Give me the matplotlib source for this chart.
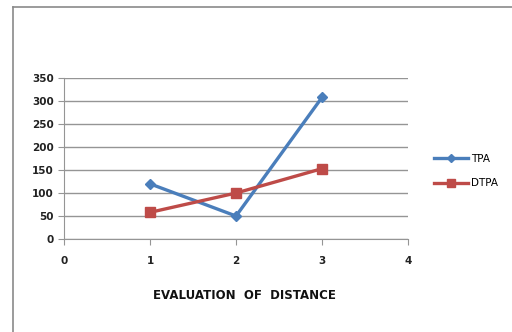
import matplotlib.pyplot as plt
from matplotlib.lines import Line2D

x = [1, 2, 3]
tpa = [120, 50, 308]
dtpa = [58, 100, 153]
xticks = [0, 1, 2, 3, 4]
yticks = [0, 50, 100, 150, 200, 250, 300, 350]

fig = plt.figure(figsize=(5.12, 3.32), dpi=100)
ax = fig.add_axes([0.125, 0.280, 0.672, 0.485])

ax.plot(x, tpa, "-D", color="#4a7ebb", lw=2.4, ms=5, label="TPA")
ax.plot(x, dtpa, "-s", color="#be4b48", lw=2.4, ms=7, label="DTPA")

ax.set_xlim(0, 4)
ax.set_ylim(0, 350)
ax.set_xticks(xticks)
ax.set_yticks(yticks)
ax.grid(axis="y", color="#959595", lw=1)
ax.set_axisbelow(True)
for s in ["top", "right"]:
    ax.spines[s].set_visible(False)
for s in ["left", "bottom"]:
    ax.spines[s].set_color("#959595")
ax.tick_params(axis="both", colors="#959595", labelcolor="#222222", labelsize=7.5, length=4)
for lab in ax.get_xticklabels() + ax.get_yticklabels():
    lab.set_fontweight("bold")
ax.tick_params(axis="x", pad=8)

fig.text(0.478, 0.11, "EVALUATION  OF  DISTANCE", ha="center", va="center",
         fontsize=8.5, fontweight="bold", color="#111111")

fig.legend(loc="center left", bbox_to_anchor=(0.83, 0.485), frameon=False,
           fontsize=7.5, handlelength=3.2, labelspacing=1.4, handletextpad=0.3,
           markerscale=0.85)

# outer chart border (top and left only)
fig.add_artist(Line2D([0.026, 1.0], [0.979, 0.979], color="#8a8a8a", lw=1.2))
fig.add_artist(Line2D([0.026, 0.026], [0.0, 0.979], color="#8a8a8a", lw=1.2))

fig.savefig("out.png", dpi=100)
